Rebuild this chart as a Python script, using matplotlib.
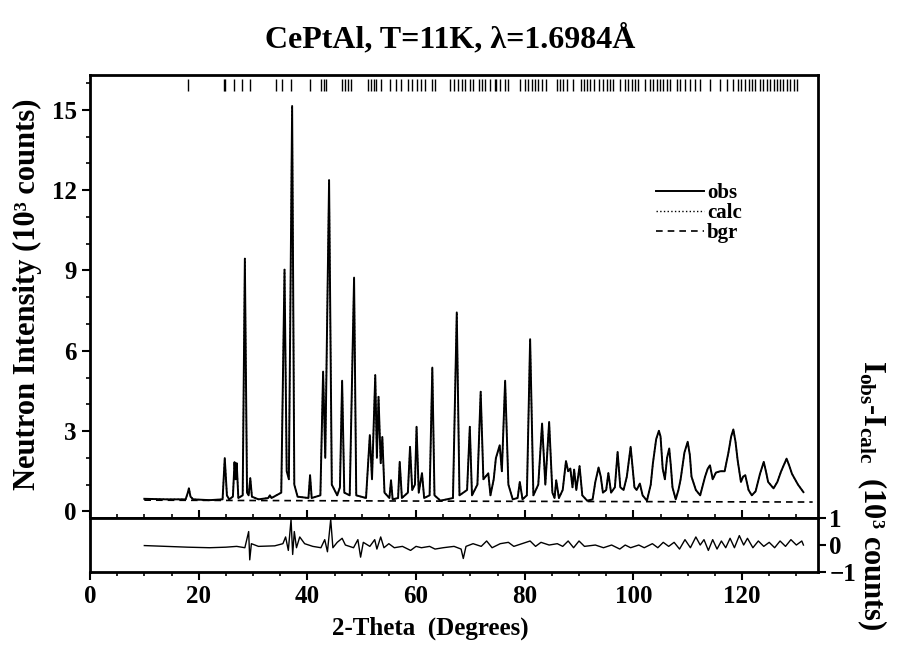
import matplotlib
matplotlib.use('Agg')
import matplotlib.pyplot as plt
from matplotlib.ticker import MultipleLocator

obs_2theta = [10, 14, 17.6, 18.0, 18.2, 18.5, 19, 22, 24.4, 24.8, 25.2, 25.6, 26.3, 26.6, 26.8, 27.0,
              27.3, 28.1, 28.5, 28.9, 29.2, 29.5, 29.8, 31, 32.8, 33.1, 33.4, 35.2, 35.8, 36.2, 36.6,
              37.2, 37.6, 38.2, 40.2, 40.5, 40.8, 42.4, 42.9, 43.3, 44.0, 44.5, 45.5, 46.0, 46.4, 46.8,
              47.8, 48.6, 49.0, 50.8, 51.5, 51.9, 52.5, 52.8, 53.1, 53.5, 53.8, 54.2, 55.1, 55.4, 55.7,
              56.7, 57.0, 57.4, 58.5, 58.9, 59.3, 59.8, 60.1, 60.5, 61.1, 61.5, 62.5, 63.0, 63.4, 64.5,
              66.8, 67.5, 68.0, 69.4, 69.9, 70.3, 71.3, 71.9, 72.4, 73.3, 73.7, 74.3, 74.7, 75.4, 75.8,
              76.4, 77.0, 77.8, 78.7, 79.1, 79.6, 80.4, 81.0, 81.6, 82.5, 83.2, 83.8, 84.5, 85.1, 85.5,
              85.8, 86.3, 87.0, 87.6, 88.0, 88.4, 88.8, 89.1, 89.5, 90.1, 90.6, 91.5, 92.5, 93.0, 93.6,
              94.0, 94.4, 95.0, 95.4, 95.9, 96.6, 97.1, 97.6, 98.2, 98.8, 99.5, 100.2, 100.6, 101.2,
              101.7, 102.5, 103.2, 103.6, 104.2, 104.7, 105.0, 105.4, 105.8, 106.2, 106.6, 106.9,
              107.2, 107.8, 108.3, 108.7, 109.4, 110.0, 110.4, 110.7, 111.5, 112.3, 113.2, 113.7,
              114.1, 114.6, 115.2, 116.0, 116.8, 117.5, 118.0, 118.4, 118.8, 119.2, 119.8, 120.2,
              120.6, 121.2, 121.8, 122.5, 123.3, 124.0, 124.5, 124.8, 125.8, 126.5, 127.2, 128.2,
              128.7, 129.2, 130.3, 131.3]
obs_counts = [0.47, 0.45, 0.45, 0.7, 0.86, 0.55, 0.45, 0.42, 0.45, 1.99, 0.6, 0.45, 0.55, 1.84, 1.2, 1.8,
              0.5, 0.6, 9.44, 0.7, 0.6, 1.24, 0.55, 0.45, 0.5, 0.6, 0.5, 0.7, 9.03, 1.5, 1.2,
              15.14, 1.0, 0.55, 0.5, 1.35, 0.5, 0.6, 5.22, 2.0, 12.37, 1.0, 0.6, 0.9, 4.88, 0.7,
              0.6, 8.73, 0.6, 0.5, 2.85, 1.2, 5.09, 2.0, 4.28, 1.8, 2.78, 0.7, 0.5, 1.16, 0.45,
              0.5, 1.85, 0.5, 0.7, 2.41, 0.8, 1.0, 3.16, 0.7, 1.43, 0.5, 0.6, 5.37, 0.6, 0.4,
              0.5, 7.43, 0.6, 0.8, 3.16, 0.6, 1.0, 4.47, 1.2, 1.42, 0.6, 1.2, 1.99, 2.47, 1.5,
              4.88, 1.0, 0.45, 0.5, 1.10, 0.45, 0.6, 6.43, 0.6, 1.0, 3.28, 1.0, 3.34, 0.7, 0.5,
              1.16, 0.5, 0.8, 1.88, 1.5, 1.6, 0.9, 1.56, 0.8, 1.69, 0.6, 0.4, 0.45, 1.1, 1.64,
              1.3, 0.7, 0.8, 1.43, 0.7, 0.9, 2.22, 0.9, 0.8, 1.3, 2.41, 0.9, 0.8, 1.04,
              0.6, 0.4, 1.0, 1.8, 2.7, 3.01, 2.8, 1.6, 1.2, 2.0, 2.35, 1.7,
              0.9, 0.45, 0.8, 1.2, 2.2, 2.60, 2.1, 1.3, 0.8, 0.6, 1.3, 1.6,
              1.72, 1.2, 1.45, 1.5, 1.5, 2.2, 2.8, 3.06, 2.6, 1.9, 1.1, 1.3,
              1.35, 0.8, 0.6, 0.75, 1.4, 1.85, 1.4, 1.1, 0.86, 1.1, 1.5, 1.97,
              1.7, 1.4, 1.0, 0.72]

# calculated profile lies on top of the observed one at this scale
calc_2theta = obs_2theta
calc_counts = obs_counts

bgr_2theta = [10, 70, 133]
bgr_counts = [0.42, 0.38, 0.35]

# Bragg reflection positions (tick row at the top)
bragg_2theta = [18.05, 24.6, 24.8, 26.5, 28.0, 29.4, 34.3, 35.4, 37.0, 40.5, 42.6, 43.0, 43.5,
                46.3, 46.9, 47.5, 48.1, 51.2, 51.7, 52.2, 52.7, 53.6, 55.2, 56.4, 57.3, 58.6, 59.2,
                60.1, 60.9, 61.6, 62.9, 63.5, 66.2, 66.9, 67.8, 68.4, 69.1, 69.9, 70.5, 71.5, 72.1,
                72.7, 73.6, 74.5, 74.8, 75.4, 76.4, 77.0, 79.1, 80.1, 80.7, 81.3, 81.9, 82.5, 83.1,
                84.0, 85.9, 86.5, 87.1, 87.7, 88.9, 90.3, 90.9, 91.5, 92.1, 92.8, 93.6, 94.5, 95.1,
                95.7, 96.3, 97.5, 98.5, 99.1, 99.7, 100.3, 100.9, 102.2, 103.1, 103.7, 104.3, 104.9,
                105.5, 106.1, 106.8, 108.0, 108.6, 109.5, 110.4, 111.4, 112.3, 114.1, 116.0, 117.2,
                118.4, 119.3, 119.9, 120.6, 121.2, 121.8, 122.4, 123.3, 123.9, 124.6, 125.2, 125.8,
                126.4, 127.0, 127.6, 128.2, 128.9, 129.5, 130.2]

# difference curve Iobs - Icalc
diff_2theta = [10, 14, 18, 22, 25, 27, 28.5, 29.2, 29.4, 29.7, 31, 34, 35.5, 36.0, 36.5, 37.0, 37.3,
               37.6, 38.0, 38.6, 39.5, 41, 42.5, 43.2, 43.7, 44.3, 44.7, 45.5, 46.4, 47, 48.5, 49.3,
               49.8, 50.3, 51.5, 52.4, 52.8, 53.5, 54.1, 55, 56, 57.5, 59, 60, 61, 62.5, 63.5, 65, 67,
               68.3, 68.7, 69.2, 70.5, 72, 73, 74, 75.5, 77, 78, 79.5, 81, 82, 83, 84.5, 86, 87, 88,
               89, 90, 91, 93, 94.5, 96, 97.5, 98.5, 99.5, 101, 102, 103.5, 104.5, 105.5, 106.5,
               107.5, 108.5, 109.5, 110.5, 111.5, 112.3, 113, 113.8, 114.6, 115.4, 116.2, 117, 117.8,
               118.6, 119.5, 120.3, 121, 122, 123, 124, 125, 126, 127, 128, 129, 130, 131, 131.3]
diff_counts = [-0.02, -0.05, -0.08, -0.1, -0.08, -0.05, -0.1, 0.5, -0.55, 0.05, -0.05, -0.03, 0.05, 0.3,
               -0.2, 0.95, -0.35, 0.5, -0.1, 0.3, 0.05, -0.05, -0.1, 0.2, -0.25, 0.95, -0.1, 0.1, 0.25,
               0.0, -0.1, 0.2, -0.45, 0.1, -0.05, 0.2, -0.15, 0.3, -0.1, 0.05, -0.1, -0.05, -0.2, -0.05,
               -0.1, -0.05, -0.15, -0.1, -0.05, -0.15, -0.5, -0.05, 0.05, -0.05, 0.15, -0.1, 0.05, 0.1,
               -0.05, 0.05, 0.15, -0.05, 0.1, 0.0, 0.05, -0.05, 0.15, -0.1, 0.15, -0.05, 0.0, -0.1, 0.0,
               -0.15, 0.0, -0.1, 0.0, -0.1, 0.05, -0.1, 0.1, -0.05, 0.1, -0.15, 0.2, -0.1, 0.3, 0.0,
               0.2, -0.2, 0.2, -0.15, 0.15, -0.1, 0.25, -0.1, 0.35, 0.0, 0.25, -0.1, 0.15, -0.05, 0.1,
               -0.1, 0.15, -0.05, 0.2, 0.0, 0.15, 0.0]

plt.rcParams['font.family'] = 'Liberation Serif'
plt.rcParams['font.weight'] = 'bold'
plt.rcParams['mathtext.fontset'] = 'custom'
plt.rcParams['mathtext.rm'] = 'Liberation Serif:bold'
plt.rcParams['mathtext.bf'] = 'Liberation Serif:bold'
plt.rcParams['mathtext.default'] = 'bf'

fig = plt.figure(figsize=(9, 6.46), dpi=100)
ax = fig.add_axes([0.1, 0.198, 0.809, 0.686])
ax2 = fig.add_axes([0.1, 0.1146, 0.809, 0.0834], sharex=ax)

ax.plot(obs_2theta, obs_counts, color='black', lw=1.4, label='obs')
ax.plot(calc_2theta, calc_counts, color='black', lw=1.0, ls=':', label='calc')
ax.plot(bgr_2theta, bgr_counts, color='black', lw=1.2, ls=(0, (4, 3)), label='bgr')
ax.vlines(bragg_2theta, 15.7, 16.15, color='black', lw=1.0)

ax.set_xlim(0, 134)
ax.set_ylim(-0.25, 16.3)
ax.yaxis.set_major_locator(MultipleLocator(3))
ax.yaxis.set_minor_locator(MultipleLocator(1))
ax.tick_params(axis='y', which='major', direction='out', length=6, width=1.5, labelsize=18)
ax.tick_params(axis='y', which='minor', direction='out', length=3, width=1.2)
ax.tick_params(axis='x', which='both', bottom=False, labelbottom=False)
for s in ax.spines.values():
    s.set_linewidth(2)

leg = ax.legend(loc='upper left', bbox_to_anchor=(0.766, 0.775), frameon=False, fontsize=15,
                handlelength=2.3, handletextpad=0.15, labelspacing=0.0, borderaxespad=0)

ax2.plot(diff_2theta, diff_counts, color='black', lw=1.0)
ax2.set_ylim(-1, 1)
ax2.set_yticks([-1, 0, 1])
ax2.yaxis.tick_right()
ax2.xaxis.set_major_locator(MultipleLocator(20))
ax2.xaxis.set_minor_locator(MultipleLocator(5))
ax2.tick_params(axis='y', direction='out', length=6, width=1.5, labelsize=18, pad=2)
ax2.tick_params(axis='x', which='major', direction='out', length=6, width=1.5, labelsize=18,
                top=True)
ax2.tick_params(axis='x', which='minor', direction='out', length=3, width=1.2, top=True)
for s in ax2.spines.values():
    s.set_linewidth(2)

fig.text(0.5, 0.94, 'CePtAl, T=11K, λ=1.6984Å', ha='center', va='center', fontsize=23)
fig.text(0.031, 0.545, 'Neutron Intensity (10³ counts)', rotation=90, ha='center', va='center',
         fontsize=22)
fig.text(0.478, 0.028, '2-Theta  (Degrees)', ha='center', va='center', fontsize=18)
fig.text(0.969, 0.234, r'$I_{obs}$-$I_{calc}$  (10³ counts)', rotation=270, ha='center',
         va='center', fontsize=22)

plt.savefig('out.png', dpi=100)
